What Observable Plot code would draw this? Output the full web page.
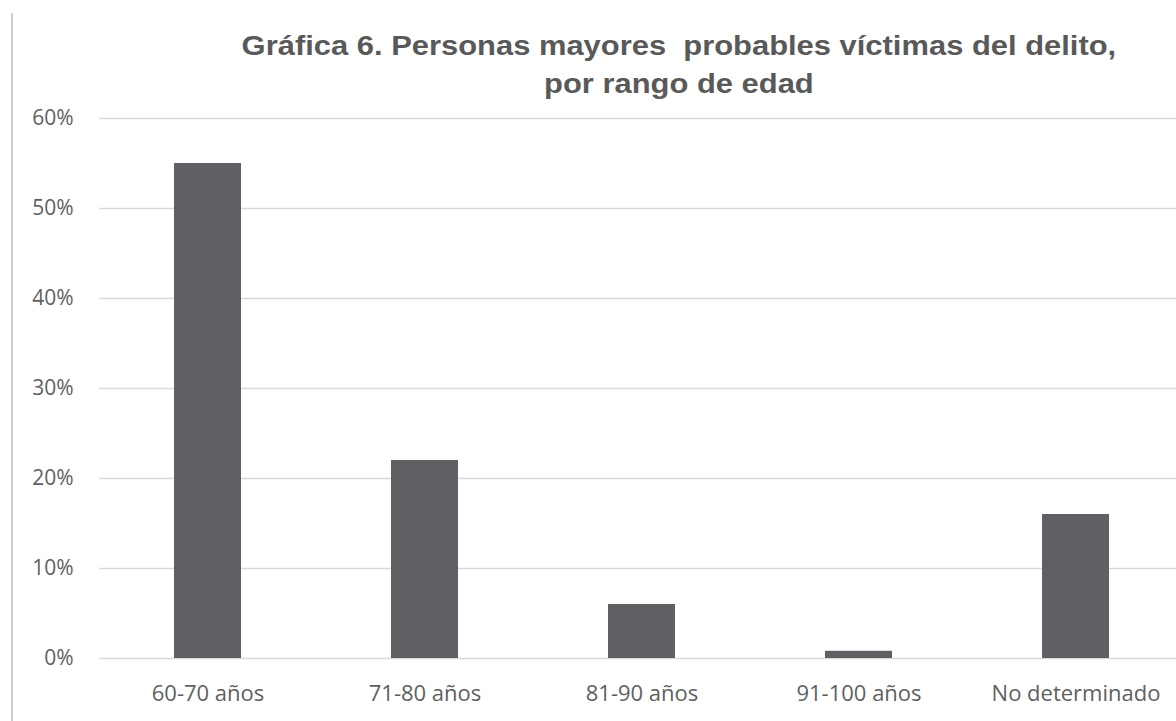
<!DOCTYPE html>
<html>
<head>
<meta charset="utf-8">
<script src="https://cdn.jsdelivr.net/npm/d3@7"></script>
<script src="https://cdn.jsdelivr.net/npm/@observablehq/plot@0.6"></script>
<style>
  html, body { margin: 0; padding: 0; background: #fff; overflow: hidden; }
  #wrap { position: relative; width: 1176px; height: 721px; overflow: hidden; }
  #edge { position: absolute; left: 11px; top: 13px; width: 2px; height: 708px; background: #cfcfcf; }
  #title {
    box-sizing: border-box; height: 104px; padding-top: 27px;
    margin-left: 199px; width: 960px; text-align: center;
    font-family: "Liberation Sans", Arial, sans-serif; font-weight: bold;
    font-size: 27px; line-height: 38px; color: #595959;
  }
  #title span { display: inline-block; transform: scaleX(1.145); transform-origin: 50% 50%; }
  #chart svg { display: block; max-width: none; }
</style>
</head>
<body>
<div id="wrap">
  <div id="edge"></div>
  <div id="title"><span>Gráfica 6. Personas mayores&nbsp; probables víctimas del delito,<br>por rango de edad</span></div>
  <div id="chart"></div>
</div>
<script>
// Age ranges and share of probable victims (%)
const rangos = ["60-70 años", "71-80 años", "81-90 años", "91-100 años", "No determinado"];
const porcentajes = [55, 22, 6, 0.8, 16];
const yTicks = [0, 10, 20, 30, 40, 50, 60];

const data = rangos.map((r, i) => ({rango: r, valor: porcentajes[i]}));

const chart = Plot.plot({
  width: 1185,
  height: 617,
  marginLeft: 99,
  marginRight: 0,
  marginTop: 14,
  marginBottom: 63,
  style: {fontFamily: "'Open Sans', sans-serif", fontSize: "22px", color: "#595959", background: "#fff", maxWidth: "none"},
  x: {domain: rangos, paddingInner: 0.69, paddingOuter: 0.345, label: null},
  y: {domain: [0, 60], label: null},
  marks: [
    Plot.ruleY(yTicks, {stroke: "#d9d9d9", strokeWidth: 1.5}),
    Plot.barY(data, {x: "rango", y: "valor", fill: "#5f6064"}),
    Plot.axisX({tickSize: 0, tickPadding: 27, fontSize: 22, fill: "#5f5f5f", label: null}),
    Plot.axisY({ticks: yTicks, tickSize: 0, tickPadding: 26, fontSize: 21, fill: "#5f5f5f",
                tickFormat: d => d + "%", label: null})
  ]
});
document.getElementById("chart").appendChild(chart);
</script>
</body>
</html>
